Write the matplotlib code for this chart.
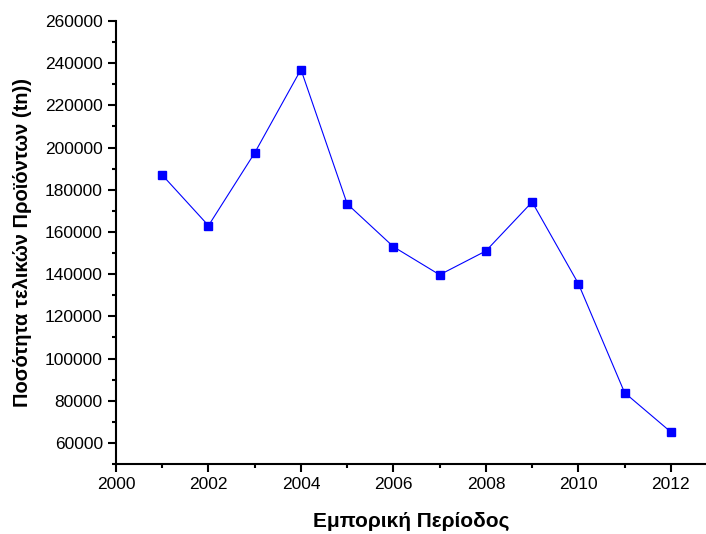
import matplotlib.pyplot as plt
from matplotlib.ticker import MultipleLocator

plt.rcParams['font.family'] = ['Liberation Sans', 'DejaVu Sans']

years = [2001, 2002, 2003, 2004, 2005, 2006, 2007, 2008, 2009, 2010, 2011, 2012]
quantity = [187000, 163000, 197500, 237000, 173300, 153000, 139700, 151000,
            174200, 135500, 83800, 65200]

fig = plt.figure(figsize=(7.06, 5.34), dpi=100)
ax = fig.add_axes([0.1643, 0.131, 0.8357, 0.8297])

ax.plot(years, quantity, color='#0000ff', linewidth=0.8,
        marker='s', markersize=6, markerfacecolor='#0000ff', markeredgecolor='#0000ff')

ax.set_xlim(2000, 2012.76)
ax.set_ylim(50000, 260000)
ax.xaxis.set_major_locator(MultipleLocator(2))
ax.xaxis.set_minor_locator(MultipleLocator(1))
ax.yaxis.set_minor_locator(MultipleLocator(10000))
ax.set_yticks(range(60000, 260001, 20000))

for side in ('top', 'right'):
    ax.spines[side].set_visible(False)
for side in ('left', 'bottom'):
    ax.spines[side].set_linewidth(1.5)

ax.tick_params(which='major', direction='out', length=6, width=1.5, labelsize=12.5)
ax.tick_params(which='minor', direction='out', length=3, width=1.5)

ax.set_xlabel('Εμπορική Περίοδος', fontsize=15, fontweight='bold', labelpad=14)
ax.set_ylabel('Ποσότητα τελικών Προϊόντων (tn))', fontsize=14.5, fontweight='bold', labelpad=9)

fig.savefig('out.png', dpi=100)
